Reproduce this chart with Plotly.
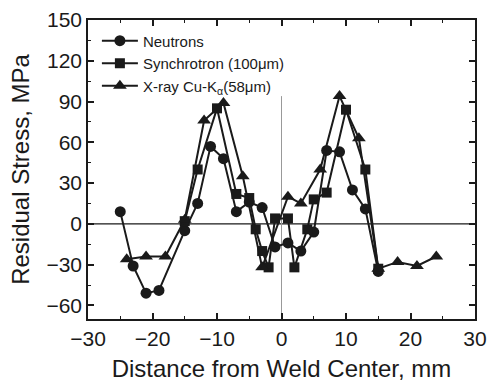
import plotly.graph_objects as go

# Neutrons (circles)
neu_x = [-25, -23, -21, -19, -15, -13, -11, -9, -7, -5, -3, -1, 1, 3, 5, 7, 9, 11, 13, 15]
neu_y = [9, -31, -51, -49, -5, 15, 57, 48, 9, 16, 12, -17, -14, -20, -6, 54, 53, 25, 11, -35]

# Synchrotron (squares)
syn_x = [-15, -13, -10, -7, -5, -4, -3, -2, -1, 1, 2, 4, 5, 7, 10, 13, 15]
syn_y = [2, 40, 85, 22, 19, -4, -20, -32, 4, 4, -32, -4, 18, 23, 84, 40, -33]

# X-ray (triangles)
xr_x = [-24, -21, -18, -15, -12, -9, -6, -3, 1, 3, 6, 9, 12, 15, 18, 21, 24]
xr_y = [-26, -24, -24, 3, 76, 89, 35, -32, 20, 15, 40, 94, 63, -33, -28, -31, -24]

x_ticks = [-30, -20, -10, 0, 10, 20, 30]
y_ticks = [-60, -30, 0, 30, 60, 90, 120, 150]

FONT = "Liberation Sans, Arial, sans-serif"
INK = "#1a1a1a"

fig = go.Figure()
series = [
    ("Neutrons", neu_x, neu_y, "circle", 11),
    ("Synchrotron (100\u03bcm)", syn_x, syn_y, "square", 10),
    ("X-ray Cu-K<sub>\u03b1</sub>(58\u03bcm)", xr_x, xr_y, "triangle-up", 12),
]
for name, xs, ys, sym, sz in series:
    fig.add_trace(go.Scatter(
        x=xs, y=ys, name=name, mode="lines+markers",
        line=dict(color=INK, width=2),
        marker=dict(symbol=sym, size=sz, color=INK),
    ))

fig.add_shape(type="line", xref="x", yref="y", x0=-30, x1=30, y0=0, y1=0,
              line=dict(color=INK, width=1.2), layer="below")
fig.add_shape(type="line", xref="x", yref="y", x0=0, x1=0, y0=-70, y1=94,
              line=dict(color="#999999", width=1), layer="below")

axis_common = dict(
    showgrid=False, zeroline=False, showline=True, linecolor=INK, linewidth=1.5,
    mirror="allticks", ticks="inside", ticklen=6, tickwidth=1.5, tickcolor=INK,
    tickfont=dict(family=FONT, size=21, color=INK), automargin=False,
)
fig.update_xaxes(**axis_common, range=[-30, 30], tickvals=x_ticks,
                 minor=dict(dtick=5, ticks="inside", ticklen=3, tickcolor=INK, tickwidth=1.2),
                 title=dict(text="Distance from Weld Center, mm",
                            font=dict(family=FONT, size=24, color=INK), standoff=11))
fig.update_yaxes(**axis_common, range=[-70, 150], tickvals=y_ticks,
                 minor=dict(dtick=15, tick0=0, ticks="inside", ticklen=3, tickcolor=INK, tickwidth=1.2),
                 title=dict(text="Residual Stress, MPa",
                            font=dict(family=FONT, size=24, color=INK), standoff=10))

fig.update_layout(
    width=488, height=388,
    margin=dict(l=88, r=13, t=20, b=69),
    plot_bgcolor="white", paper_bgcolor="white",
    showlegend=True,
    legend=dict(x=0.023, y=0.985, xanchor="left", yanchor="top",
                font=dict(family=FONT, size=15, color=INK),
                bgcolor="rgba(0,0,0,0)", tracegroupgap=0, itemwidth=36),
)

fig.write_html("out.html")
